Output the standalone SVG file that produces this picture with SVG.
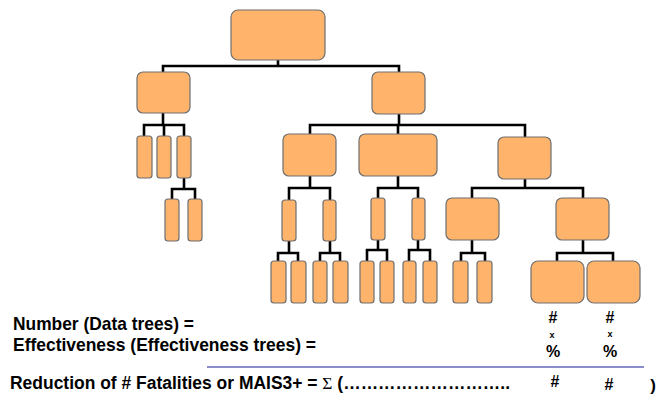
<svg xmlns="http://www.w3.org/2000/svg" width="656" height="394" viewBox="0 0 656 394">
<style>
.n{fill:#FFB36B;stroke:#6e6e6e;stroke-width:1.2}
.c{fill:none;stroke:#000;stroke-width:2.6;stroke-linecap:square}
.t{font-family:"Liberation Sans",Arial,sans-serif;font-weight:bold;fill:#000}
</style>
<rect width="656" height="394" fill="#fff"/>
<g id="connectors" class="c">
<path d="M278 60V66M163 66H399M163 66V72M399 66V72"/>
<path d="M163 113V125M144 125H184M144 125V136M164 125V136M184 125V136"/>
<path d="M184 178V189M172 189H195M172 189V199M195 189V199"/>
<path d="M399 114V125M310 125H525M310 125V134M398 125V134M525 125V137"/>
<path d="M310 176V188M289 188H330M289 188V200M330 188V200"/>
<path d="M398 176V188M378 188H418M378 188V198M418 188V198"/>
<path d="M525 179V188M472 188H583M472 188V198M583 188V198"/>
<path d="M289 241V253M278 253H298M278 253V261M298 253V261"/>
<path d="M330 241V253M320 253H340M320 253V261M340 253V261"/>
<path d="M378 240V250M367 250H387M367 250V261M387 250V261"/>
<path d="M418 240V250M409 250H430M409 250V261M430 250V261"/>
<path d="M472 240V253M461 253H485M461 253V261M485 253V261"/>
<path d="M583 240V253M557 253H613M557 253V261M613 253V261"/>
</g>
<g id="root"><rect class="n" x="231" y="10" width="94" height="50" rx="7"/></g>
<g id="l1a"><rect class="n" x="137" y="72" width="53" height="41" rx="6"/></g>
<g id="l1b"><rect class="n" x="372" y="72" width="53" height="42" rx="6"/></g>
<g id="l1a-c1"><rect class="n" x="137" y="136" width="15" height="42" rx="3"/></g>
<g id="l1a-c2"><rect class="n" x="157" y="136" width="14" height="42" rx="3"/></g>
<g id="l1a-c3"><rect class="n" x="177" y="136" width="14" height="42" rx="3"/></g>
<g id="l1a-c3a"><rect class="n" x="165" y="199" width="14" height="42" rx="3"/></g>
<g id="l1a-c3b"><rect class="n" x="188" y="199" width="14" height="42" rx="3"/></g>
<g id="A"><rect class="n" x="283" y="134" width="53" height="42" rx="6"/></g>
<g id="B"><rect class="n" x="359" y="134" width="78" height="42" rx="6"/></g>
<g id="C"><rect class="n" x="498" y="137" width="53" height="42" rx="6"/></g>
<g id="A1"><rect class="n" x="282" y="200" width="14" height="41" rx="3"/></g>
<g id="A2"><rect class="n" x="323" y="200" width="13" height="41" rx="3"/></g>
<g id="B1"><rect class="n" x="371" y="198" width="14" height="42" rx="3"/></g>
<g id="B2"><rect class="n" x="412" y="198" width="13" height="42" rx="3"/></g>
<g id="D"><rect class="n" x="446" y="198" width="53" height="42" rx="6"/></g>
<g id="E"><rect class="n" x="556" y="198" width="53" height="42" rx="6"/></g>
<g id="A1a"><rect class="n" x="271" y="261" width="15" height="42" rx="3"/></g>
<g id="A1b"><rect class="n" x="291" y="261" width="15" height="42" rx="3"/></g>
<g id="A2a"><rect class="n" x="313" y="261" width="14" height="42" rx="3"/></g>
<g id="A2b"><rect class="n" x="333" y="261" width="15" height="42" rx="3"/></g>
<g id="B1a"><rect class="n" x="360" y="261" width="14" height="42" rx="3"/></g>
<g id="B1b"><rect class="n" x="380" y="261" width="14" height="42" rx="3"/></g>
<g id="B2a"><rect class="n" x="403" y="261" width="13" height="42" rx="3"/></g>
<g id="B2b"><rect class="n" x="423" y="261" width="14" height="42" rx="3"/></g>
<g id="D1"><rect class="n" x="453" y="261" width="15" height="42" rx="3"/></g>
<g id="D2"><rect class="n" x="477" y="261" width="15" height="42" rx="3"/></g>
<g id="E1"><rect class="n" x="531" y="261" width="53" height="42" rx="7"/></g>
<g id="E2"><rect class="n" x="587" y="261" width="53" height="42" rx="7"/></g>
<g id="formula">
<text class="t" x="13" y="330" font-size="18.5" textLength="181" lengthAdjust="spacingAndGlyphs">Number (Data trees) =</text>
<text class="t" x="13" y="351" font-size="18.5" textLength="303" lengthAdjust="spacingAndGlyphs">Effectiveness (Effectiveness trees) =</text>
<text class="t" x="10" y="389" font-size="17.5" textLength="500" lengthAdjust="spacingAndGlyphs">Reduction of # Fatalities or MAIS3+ = <tspan font-family="'Liberation Serif',serif" font-weight="normal">Σ</tspan> (………………………..</text>
<line x1="207" y1="367" x2="644" y2="367" stroke="#6666b8" stroke-width="1.3"/>
<g text-anchor="middle" class="t">
<text x="553" y="323" font-size="16">#</text>
<text x="610" y="323" font-size="16">#</text>
<text x="552" y="338" font-size="9">x</text>
<text x="610" y="337" font-size="9">x</text>
<text x="553" y="357" font-size="16">%</text>
<text x="610" y="357" font-size="16">%</text>
<text x="555" y="387" font-size="16">#</text>
<text x="609" y="390" font-size="16">#</text>
<text x="653" y="391" font-size="17">)</text>
</g>
</g>
</svg>
